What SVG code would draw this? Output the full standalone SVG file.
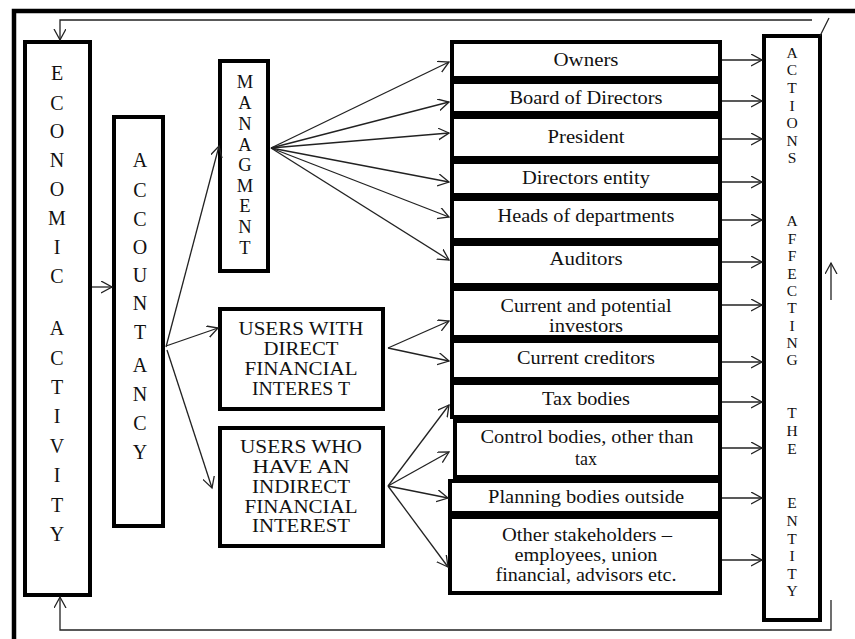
<svg xmlns="http://www.w3.org/2000/svg" width="855" height="639" viewBox="0 0 855 639">
<defs>
<marker id="ah" markerUnits="userSpaceOnUse" markerWidth="14" markerHeight="14" refX="11" refY="6" orient="auto">
<path d="M0,0 L11,6 L0,12" fill="none" stroke="#222" stroke-width="1.3"/>
</marker>
<style>
.box{fill:#fff;stroke:#000;stroke-width:4}
.frame{fill:none;stroke:#000;stroke-width:4.5}
.c{fill:none;stroke:#222;stroke-width:1.3;marker-end:url(#ah)}
.l{fill:none;stroke:#222;stroke-width:1.3}
.t{fill:#111;text-anchor:middle}
.v20{font-size:20px}
.v17{font-size:18.5px}
.v15{font-size:15.5px}
.m{font-size:18.5px}
</style>
</defs>
<rect width="855" height="639" fill="#fff"/>
<g id="frame">
<path class="frame" d="M14,639 L14,11 L855,11"/>
</g>
<g font-family="Liberation Serif, Times New Roman, DejaVu Serif, serif">
<g id="economic-activity">
<rect class="box" x="25" y="42" width="65" height="553"/>
<text class="t v20"><tspan x="57" y="80">E</tspan><tspan x="57" y="110">C</tspan><tspan x="57" y="138">O</tspan><tspan x="57" y="167">N</tspan><tspan x="57" y="196">O</tspan><tspan x="57" y="225">M</tspan><tspan x="57" y="254">I</tspan><tspan x="57" y="283">C</tspan><tspan x="57" y="335">A</tspan><tspan x="57" y="365">C</tspan><tspan x="57" y="394">T</tspan><tspan x="57" y="423">I</tspan><tspan x="57" y="453">V</tspan><tspan x="57" y="482">I</tspan><tspan x="57" y="512">T</tspan><tspan x="57" y="541">Y</tspan></text>
</g>
<g id="accountancy">
<rect class="box" x="114" y="117" width="49" height="409"/>
<text class="t v20"><tspan x="140" y="167">A</tspan><tspan x="140" y="197">C</tspan><tspan x="140" y="226">C</tspan><tspan x="140" y="254">O</tspan><tspan x="140" y="282">U</tspan><tspan x="140" y="310">N</tspan><tspan x="140" y="339">T</tspan><tspan x="140" y="372">A</tspan><tspan x="140" y="401">N</tspan><tspan x="140" y="430">C</tspan><tspan x="140" y="459">Y</tspan></text>
</g>
<g id="managment">
<rect class="box" x="220" y="61" width="48" height="210"/>
<text class="t v17"><tspan x="245" y="88">M</tspan><tspan x="245" y="109">A</tspan><tspan x="245" y="130">N</tspan><tspan x="245" y="151">A</tspan><tspan x="245" y="171">G</tspan><tspan x="245" y="192">M</tspan><tspan x="245" y="212">E</tspan><tspan x="245" y="233">N</tspan><tspan x="245" y="254">T</tspan></text>
</g>
<g id="users-direct">
<rect class="box" x="220" y="309" width="163" height="100"/>
<text class="t m" x="301" y="335" textLength="125" lengthAdjust="spacingAndGlyphs">USERS WITH</text>
<text class="t m" x="301" y="355" textLength="75" lengthAdjust="spacingAndGlyphs">DIRECT</text>
<text class="t m" x="301" y="375" textLength="113" lengthAdjust="spacingAndGlyphs">FINANCIAL</text>
<text class="t m" x="301" y="395" textLength="98" lengthAdjust="spacingAndGlyphs">INTERES T</text>
</g>
<g id="users-indirect">
<rect class="box" x="220" y="428" width="163" height="118"/>
<text class="t m" x="301" y="453" textLength="122" lengthAdjust="spacingAndGlyphs">USERS WHO</text>
<text class="t m" x="301" y="473" textLength="97" lengthAdjust="spacingAndGlyphs">HAVE AN</text>
<text class="t m" x="301" y="493" textLength="98" lengthAdjust="spacingAndGlyphs">INDIRECT</text>
<text class="t m" x="301" y="513" textLength="113" lengthAdjust="spacingAndGlyphs">FINANCIAL</text>
<text class="t m" x="301" y="532" textLength="98" lengthAdjust="spacingAndGlyphs">INTEREST</text>
</g>
<g id="owners"><rect class="box" x="452" y="42" width="268" height="36"/><text class="t m" x="586" y="66" textLength="65" lengthAdjust="spacingAndGlyphs">Owners</text></g>
<g id="board"><rect class="box" x="452" y="82" width="268" height="31"/><text class="t m" x="586" y="104" textLength="153" lengthAdjust="spacingAndGlyphs">Board of Directors</text></g>
<g id="president"><rect class="box" x="452" y="117" width="268" height="41"/><text class="t m" x="586" y="143" textLength="77" lengthAdjust="spacingAndGlyphs">President</text></g>
<g id="directors-entity"><rect class="box" x="452" y="162" width="268" height="33"/><text class="t m" x="586" y="184" textLength="128" lengthAdjust="spacingAndGlyphs">Directors entity</text></g>
<g id="heads"><rect class="box" x="452" y="199" width="268" height="41"/><text class="t m" x="586" y="222" textLength="177" lengthAdjust="spacingAndGlyphs">Heads of departments</text></g>
<g id="auditors"><rect class="box" x="452" y="244" width="268" height="41"/><text class="t m" x="586" y="265" textLength="73" lengthAdjust="spacingAndGlyphs">Auditors</text></g>
<g id="investors"><rect class="box" x="452" y="289" width="268" height="48"/>
<text class="t m" x="586" y="312" textLength="171" lengthAdjust="spacingAndGlyphs">Current and potential</text>
<text class="t m" x="586" y="332" textLength="74" lengthAdjust="spacingAndGlyphs">investors</text></g>
<g id="creditors"><rect class="box" x="452" y="341" width="268" height="38"/><text class="t m" x="586" y="364" textLength="138" lengthAdjust="spacingAndGlyphs">Current creditors</text></g>
<g id="tax"><rect class="box" x="452" y="383" width="268" height="34"/><text class="t m" x="586" y="405" textLength="88" lengthAdjust="spacingAndGlyphs">Tax bodies</text></g>
<g id="control"><rect class="box" x="455" y="421" width="265" height="56"/>
<text class="t m" x="587" y="443" textLength="213" lengthAdjust="spacingAndGlyphs">Control bodies, other than</text>
<text class="t m" x="586" y="465" textLength="22" lengthAdjust="spacingAndGlyphs">tax</text></g>
<g id="planning"><rect class="box" x="450" y="481" width="270" height="32"/><text class="t m" x="586" y="503" textLength="196" lengthAdjust="spacingAndGlyphs">Planning bodies outside</text></g>
<g id="other"><rect class="box" x="450" y="517" width="270" height="76"/>
<text class="t m" x="587" y="541" textLength="170" lengthAdjust="spacingAndGlyphs">Other stakeholders –</text>
<text class="t m" x="586" y="561" textLength="143" lengthAdjust="spacingAndGlyphs">employees, union</text>
<text class="t m" x="586" y="581" textLength="181" lengthAdjust="spacingAndGlyphs">financial, advisors etc.</text></g>
<g id="actions">
<rect class="box" x="764" y="36" width="56" height="584"/>
<text class="t v15"><tspan x="792" y="58">A</tspan><tspan x="792" y="75">C</tspan><tspan x="792" y="93">T</tspan><tspan x="792" y="111">I</tspan><tspan x="792" y="128">O</tspan><tspan x="792" y="146">N</tspan><tspan x="792" y="163">S</tspan><tspan x="792" y="226">A</tspan><tspan x="792" y="244">F</tspan><tspan x="792" y="261">F</tspan><tspan x="792" y="279">E</tspan><tspan x="792" y="296">C</tspan><tspan x="792" y="313">T</tspan><tspan x="792" y="331">I</tspan><tspan x="792" y="348">N</tspan><tspan x="792" y="365">G</tspan><tspan x="792" y="418">T</tspan><tspan x="792" y="436">H</tspan><tspan x="792" y="454">E</tspan><tspan x="792" y="508">E</tspan><tspan x="792" y="526">N</tspan><tspan x="792" y="544">T</tspan><tspan x="792" y="561">I</tspan><tspan x="792" y="579">T</tspan><tspan x="792" y="596">Y</tspan></text>
</g>
</g>
<g id="connectors">
<path class="c" d="M812,20 L60,20 L60,40"/>
<path class="l" d="M820,36 L829,18"/>
<path class="c" d="M831,300 L831,263"/>
<path class="c" d="M831,600 L831,630 L60,630 L60,597"/>
<path class="c" d="M92,287 L112,287"/>
<path class="c" d="M166,347 L219,146"/>
<path class="c" d="M166,346 L218,328"/>
<path class="c" d="M167,350 L212,488"/>
<path class="c" d="M271,148 L449,62"/>
<path class="c" d="M271,148 L449,102"/>
<path class="c" d="M271,148 L449,133"/>
<path class="c" d="M271,148 L449,182"/>
<path class="c" d="M271,148 L449,217"/>
<path class="c" d="M271,148 L449,260"/>
<path class="c" d="M388,348 L449,321"/>
<path class="c" d="M388,348 L449,361"/>
<path class="c" d="M388,486 L449,405"/>
<path class="c" d="M388,486 L449,452"/>
<path class="c" d="M388,486 L448,498"/>
<path class="c" d="M388,486 L448,567"/>
<path class="c" d="M722,60 L762,60"/>
<path class="c" d="M722,101 L762,101"/>
<path class="c" d="M722,139 L762,139"/>
<path class="c" d="M722,182 L762,182"/>
<path class="c" d="M722,220 L762,220"/>
<path class="c" d="M722,262 L762,262"/>
<path class="c" d="M722,305 L762,305"/>
<path class="c" d="M722,362 L762,362"/>
<path class="c" d="M722,402 L762,402"/>
<path class="c" d="M722,448 L762,448"/>
<path class="c" d="M722,498 L762,498"/>
<path class="c" d="M722,560 L762,560"/>
</g>
</svg>
